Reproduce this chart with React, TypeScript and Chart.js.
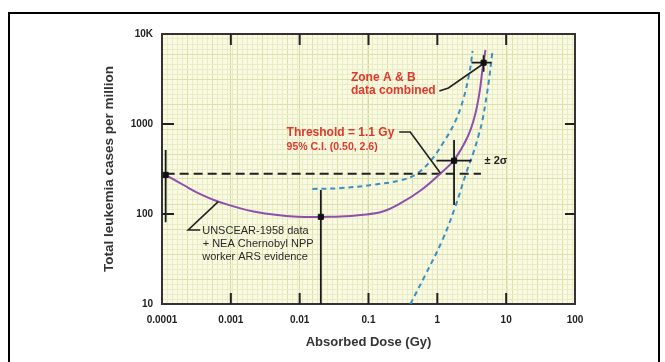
import React, { useEffect, useRef } from 'react';
import { Chart, registerables } from 'chart.js';

Chart.register(...registerables);

// ---- axis ticks ----
const X_TICKS = [0.0001, 0.001, 0.01, 0.1, 1, 10, 100];
const X_TICK_LABELS = ['0.0001', '0.001', '0.01', '0.1', '1', '10', '100'];
const Y_TICKS = [10, 100, 1000, 10000];
const Y_TICK_LABELS = ['10', '100', '1000', '10K'];

// ---- fitted curve (purple) ----
const FIT_X = [1.13e-4, 2.05e-4, 3.6e-4, 6.65e-4, 2.24e-3, 9.3e-3, 0.0387, 0.0778, 0.161, 0.298, 0.584, 1.1, 1.79, 2.79, 3.5, 4.1, 4.5, 4.7, 5.0];
const FIT_Y = [272, 210, 166, 137, 106, 93.3, 93.9, 97.5, 106.6, 132.6, 184.8, 280, 408, 736, 1227, 2240, 3880, 4800, 6640];

// ---- 95% confidence bounds (blue dashed) ----
const UPPER_X = [0.0153, 0.04, 0.12, 0.3, 0.5, 0.8, 1.25, 1.8, 2.37, 2.96, 3.25];
const UPPER_Y = [190, 194, 212, 238, 280, 390, 640, 1050, 1850, 3900, 6500];
const LOWER_X = [0.406, 0.668, 1.18, 1.82, 2.6, 3.4, 4.0, 4.5, 5.0, 5.6, 6.3];
const LOWER_Y = [10, 21, 51, 120, 280, 500, 760, 1080, 1700, 3000, 6300];

// ---- baseline (black dashed) ----
const BASE_X = [1.13e-4, 4.3];
const BASE_Y = [280, 280];

// ---- data points with error bars ----
const POINT_X = [1.13e-4, 0.0203, 1.75, 4.7];
const POINT_Y = [272, 93, 391, 4800];
const ERR_Y_LOW = [81, 10, 126, 3800];
const ERR_Y_HIGH = [514, 185, 664, 5800];
const ERR_X_LOW = [null, null, 0.97, 3.13];
const ERR_X_HIGH = [null, null, 3.13, 6.1];

// ---- annotations (data coordinates) ----
const RED = '#e0382c';
const NOTES = [
  { text: 'Zone A & B', x: 0.0556, y: 3300, color: RED, font: 'bold 12px "Liberation Sans", Arial, sans-serif' },
  { text: 'data combined', x: 0.0556, y: 2345, color: RED, font: 'bold 12px "Liberation Sans", Arial, sans-serif' },
  { text: 'Threshold = 1.1 Gy', x: 6.46e-3, y: 794, color: RED, font: 'bold 12px "Liberation Sans", Arial, sans-serif' },
  { text: '95% C.I. (0.50, 2.6)', x: 6.46e-3, y: 555, color: RED, font: 'bold 10.5px "Liberation Sans", Arial, sans-serif' },
  { text: '\u00b1 2\u03c3', x: 4.86, y: 393, color: '#222', font: 'bold 11px "Liberation Sans", Arial, sans-serif' },
  { text: 'UNSCEAR-1958 data', x: 3.84e-4, y: 65.2, color: '#2a2a2a', font: '11px "Liberation Sans", Arial, sans-serif' },
  { text: '+ NEA Chernobyl NPP', x: 3.9e-4, y: 46.4, color: '#2a2a2a', font: '11px "Liberation Sans", Arial, sans-serif' },
  { text: 'worker ARS evidence', x: 3.84e-4, y: 33.5, color: '#2a2a2a', font: '11px "Liberation Sans", Arial, sans-serif' },
];
const LEADERS = [
  { x: [1.07, 1.45, 4.39], y: [2328, 2512, 4525] },
  { x: [0.279, 0.404, 1.106], y: [815, 815, 285] },
  { x: [3.59e-4, 2.4e-4, 6.57e-4], y: [66.4, 66.4, 137] },
];

const FONT = '"Liberation Sans", Arial, sans-serif';

function pts(xs: number[], ys: number[]) {
  return xs.map((x, i) => ({ x, y: ys[i] }));
}

export default function App() {
  const ref = useRef<HTMLCanvasElement | null>(null);

  useEffect(() => {
    if (!ref.current) return;

    const errData: any[] = [];
    POINT_X.forEach((px, i) => {
      errData.push({ x: px, y: ERR_Y_LOW[i] }, { x: px, y: ERR_Y_HIGH[i] }, { x: px, y: null });
      if (ERR_X_LOW[i] != null) {
        errData.push(
          { x: ERR_X_LOW[i], y: POINT_Y[i] },
          { x: ERR_X_HIGH[i], y: POINT_Y[i] },
          { x: ERR_X_HIGH[i], y: null }
        );
      }
    });

    const bgPlugin = {
      id: 'bg',
      beforeDraw(chart: any) {
        const { ctx, chartArea: a } = chart;
        ctx.save();
        ctx.fillStyle = '#fafae2';
        ctx.fillRect(a.left, a.top, a.right - a.left, a.bottom - a.top);
        ctx.restore();
      },
    };

    const ticksPlugin = {
      id: 'innerTicks',
      afterDatasetsDraw(chart: any) {
        const { ctx, chartArea: a, scales } = chart;
        const x = scales.x, y = scales.y;
        ctx.save();
        ctx.strokeStyle = '#222';
        ctx.lineWidth = 2;
        ctx.beginPath();
        X_TICKS.forEach((v) => {
          const p = x.getPixelForValue(v);
          if (p <= a.left + 1 || p >= a.right - 1) return;
          ctx.moveTo(p, a.bottom); ctx.lineTo(p, a.bottom - 11);
          ctx.moveTo(p, a.top); ctx.lineTo(p, a.top + 11);
        });
        Y_TICKS.forEach((v) => {
          const p = y.getPixelForValue(v);
          if (p <= a.top + 1 || p >= a.bottom - 1) return;
          ctx.moveTo(a.left, p); ctx.lineTo(a.left + 12, p);
          ctx.moveTo(a.right, p); ctx.lineTo(a.right - 10, p);
        });
        ctx.stroke();
        ctx.restore();
      },
    };

    const notesPlugin = {
      id: 'notes',
      afterDraw(chart: any) {
        const { ctx, scales } = chart;
        const x = scales.x, y = scales.y;
        ctx.save();
        ctx.strokeStyle = '#222';
        ctx.lineWidth = 1.6;
        LEADERS.forEach((l) => {
          ctx.beginPath();
          l.x.forEach((vx, i) => {
            const px = x.getPixelForValue(vx), py = y.getPixelForValue(l.y[i]);
            if (i === 0) ctx.moveTo(px, py); else ctx.lineTo(px, py);
          });
          ctx.stroke();
        });
        ctx.textAlign = 'left';
        ctx.textBaseline = 'middle';
        NOTES.forEach((n) => {
          ctx.font = n.font;
          ctx.fillStyle = n.color;
          ctx.fillText(n.text, x.getPixelForValue(n.x), y.getPixelForValue(n.y));
        });
        ctx.restore();
      },
    };

    const gridTicks = (max: number) => (s: any) => {
      const t: any[] = [];
      for (let i = 0; i <= max; i++) t.push({ value: i });
      s.ticks = t;
    };
    const gridColor = (c: any) => (c.tick && c.tick.value % 5 === 0 ? '#d9e1ac' : '#e9edc6');

    const chart = new Chart(ref.current, {
      type: 'line',
      data: {
        datasets: [
          {
            data: pts(POINT_X, POINT_Y),
            showLine: false,
            pointStyle: 'rect',
            pointRadius: 3.6,
            pointBackgroundColor: '#111',
            pointBorderColor: '#111',
            pointBorderWidth: 1,
          },
          {
            data: errData,
            borderColor: '#1a1a1a',
            borderWidth: 1.8,
            pointRadius: 0,
            spanGaps: false,
          },
          {
            data: pts(FIT_X, FIT_Y),
            borderColor: '#8e4fae',
            borderWidth: 2,
            pointRadius: 0,
            tension: 0.4,
          },
          {
            data: pts(BASE_X, BASE_Y),
            borderColor: '#222',
            borderWidth: 2,
            borderDash: [9, 5],
            pointRadius: 0,
          },
          {
            data: pts(UPPER_X, UPPER_Y),
            borderColor: '#3b8fc2',
            borderWidth: 2,
            borderDash: [5, 4],
            pointRadius: 0,
            tension: 0.4,
          },
          {
            data: pts(LOWER_X, LOWER_Y),
            borderColor: '#3b8fc2',
            borderWidth: 2,
            borderDash: [5, 4],
            pointRadius: 0,
            tension: 0.4,
          },
        ],
      },
      options: {
        responsive: false,
        animation: false,
        devicePixelRatio: 1,
        layout: { padding: { left: 0, top: 34, right: 90, bottom: 0 } },
        plugins: { legend: { display: false }, tooltip: { enabled: false } },
        scales: {
          x: {
            type: 'logarithmic',
            position: 'bottom',
            min: 0.0001,
            max: 100,
            afterBuildTicks: (s: any) => { s.ticks = X_TICKS.map((v) => ({ value: v })); },
            afterFit: (s: any) => { s.height = 58; },
            ticks: {
              autoSkip: false,
              maxRotation: 0,
              padding: 10,
              color: '#222',
              font: { family: FONT, size: 10, weight: 'bold' },
              callback: (_v: any, i: number) => X_TICK_LABELS[i],
            },
            grid: { color: '#d0dba2', lineWidth: 1, drawTicks: false },
            border: { display: true, color: '#333', width: 2 },
            title: {
              display: true,
              text: 'Absorbed Dose (Gy)',
              color: '#333',
              font: { family: FONT, size: 13, weight: 'bold' },
              padding: { top: 0, bottom: 11.5 },
            },
          },
          y: {
            type: 'logarithmic',
            position: 'left',
            min: 10,
            max: 10000,
            afterBuildTicks: (s: any) => { s.ticks = Y_TICKS.map((v) => ({ value: v })); },
            afterFit: (s: any) => { s.width = 162; },
            ticks: {
              autoSkip: false,
              padding: 9,
              color: '#222',
              font: { family: FONT, size: 10, weight: 'bold' },
              callback: (_v: any, i: number) => Y_TICK_LABELS[i],
            },
            grid: { color: '#d0dba2', lineWidth: 1, drawTicks: false },
            border: { display: true, color: '#333', width: 2 },
            title: {
              display: true,
              text: 'Total leukemia cases per million',
              color: '#333',
              font: { family: FONT, size: 13.5, weight: 'bold' },
              padding: { top: 101.5, bottom: 0 },
            },
          },
          gx: {
            type: 'linear',
            position: 'top',
            min: 0,
            max: 82.6,
            afterBuildTicks: gridTicks(82),
            afterFit: (s: any) => { s.height = 0; },
            ticks: { display: false },
            grid: { color: gridColor, lineWidth: 1, drawTicks: false },
            border: { display: true, color: '#333', width: 2 },
          },
          gy: {
            type: 'linear',
            position: 'right',
            min: 0,
            max: 54,
            afterBuildTicks: gridTicks(54),
            afterFit: (s: any) => { s.width = 0; },
            ticks: { display: false },
            grid: { color: gridColor, lineWidth: 1, drawTicks: false },
            border: { display: true, color: '#333', width: 2 },
          },
        },
      } as any,
      plugins: [bgPlugin, ticksPlugin, notesPlugin],
    });

    return () => chart.destroy();
  }, []);

  return (
    <div style={{ position: 'fixed', left: 0, top: 0, width: 665, height: 362, background: '#fff' }}>
      <canvas ref={ref} width={665} height={362} style={{ display: 'block' }} />
      <div
        style={{
          position: 'fixed',
          left: 8,
          top: 12,
          width: 652,
          height: 350,
          borderTop: '2px solid #000',
          borderLeft: '2px solid #000',
          borderRight: '2px solid #000',
          boxSizing: 'border-box',
          pointerEvents: 'none',
        }}
      />
    </div>
  );
}
